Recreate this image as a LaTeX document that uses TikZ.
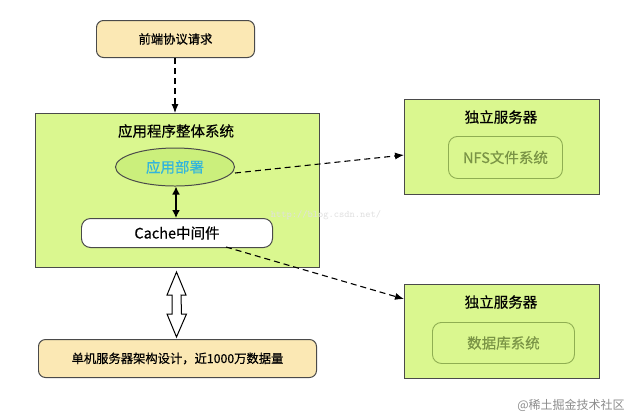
\documentclass[tikz,border=0pt]{standalone}
\usepackage{fontspec}
\setmainfont{Noto Sans CJK SC}[FakeBold=0.5]
\newfontfamily\plainfont{Noto Sans CJK SC}
\usetikzlibrary{shapes.geometric,arrows.meta}
\definecolor{lime}{HTML}{DAF78F}
\definecolor{limedark}{HTML}{CBEF7C}
\definecolor{peach}{HTML}{FBE8B4}
\definecolor{edge}{HTML}{4A4A4A}
\definecolor{olive}{HTML}{8FAE52}
\definecolor{cyantext}{HTML}{33B5DC}
\tikzset{
  box/.style={draw=edge,line width=1pt,rounded corners=7bp,fill=peach,inner sep=0pt},
  server/.style={draw=edge,line width=1pt,fill=lime,inner sep=0pt},
  inner/.style={draw=olive,line width=0.9pt,rounded corners=9bp,inner sep=0pt,text=olive!85!black},
  dasharrow/.style={draw=black,line width=1.1pt,dash pattern=on 6bp off 4bp,-{Latex[length=9bp,width=7bp]}},
  big/.style={font=\fontsize{14.5bp}{17bp}\selectfont},
  small/.style={font=\fontsize{12.3bp}{15bp}\selectfont},
}
\begin{document}
\begin{tikzpicture}[x=1bp,y=-1bp]
\useasboundingbox (0,0) rectangle (640,419);
\fill[white] (0,0) rectangle (640,419);
% top box
\node[box,small,minimum width=158bp,minimum height=37bp,anchor=north west] (front) at (96,20) {前端协议请求};
% main system
\node[server,minimum width=284bp,minimum height=154bp,anchor=north west] (sys) at (35,113) {};
\node[big] (systitle) at (176,131) {应用程序整体系统};
\node[ellipse,draw=edge,line width=1pt,fill=limedark,minimum width=119bp,minimum height=38bp,inner sep=0pt,text=cyantext,big] (deploy) at (175,167) {应用部署};
\node[box,fill=white,rounded corners=9bp,minimum width=191bp,minimum height=29bp,anchor=north west,big] (cache) at (81,218) {Cache中间件};
% servers
\node[server,minimum width=195bp,minimum height=95bp,anchor=north west] (nfssrv) at (404,99) {};
\node[big] (nfstitle) at (501,117) {独立服务器};
\node[inner,minimum width=114bp,minimum height=42bp,anchor=north west,big] (nfs) at (448,136) {NFS文件系统};
\node[server,minimum width=195bp,minimum height=94bp,anchor=north west] (dbsrv) at (404,284) {};
\node[big] (dbtitle) at (501,302) {独立服务器};
\node[inner,minimum width=142bp,minimum height=41bp,anchor=north west,big] (db) at (432,322) {数据库系统};
% bottom box
\node[box,small,minimum width=278bp,minimum height=38bp,anchor=north west] (single) at (38,339) {单机服务器架构设计，近1000万数据量};
% connectors
\draw[dasharrow] (front.south -| 175,0) -- (sys.north -| 175,0);
\draw[line width=1.6pt,{Latex[length=8bp,width=8bp]}-{Latex[length=8bp,width=8bp]}] (deploy.south -| 176,0) -- (cache.north -| 176,0);
\coordinate (a1) at (235,173);
\coordinate (a2) at (226,247);
\draw[dasharrow] (a1) -- (nfssrv.west |- 0,155);
\draw[dasharrow] (a2) -- (dbsrv.west |- 0,299);
% hollow double arrow
\coordinate (ht) at (176.5,272);
\coordinate (hb) at (176.5,337);
\draw[line width=1pt,fill=white,line join=miter]
  (ht) -- ++(9.5,23) -- ++(-5,0) -- (181.5,314) -- ++(5,0) -- (hb) -- (167,314) -- ++(5,0) -- (172,295) -- ++(-5,0) -- cycle;
% watermarks
\node[text=black!12,font=\fontsize{10bp}{12bp}\ttfamily] (wm1) at (326,215) {http://blog.csdn.net/};
\node[text=black!45,font=\fontsize{12bp}{14bp}\plainfont] (wm2) at (571,405) {@稀土掘金技术社区};
\end{tikzpicture}
\end{document}
